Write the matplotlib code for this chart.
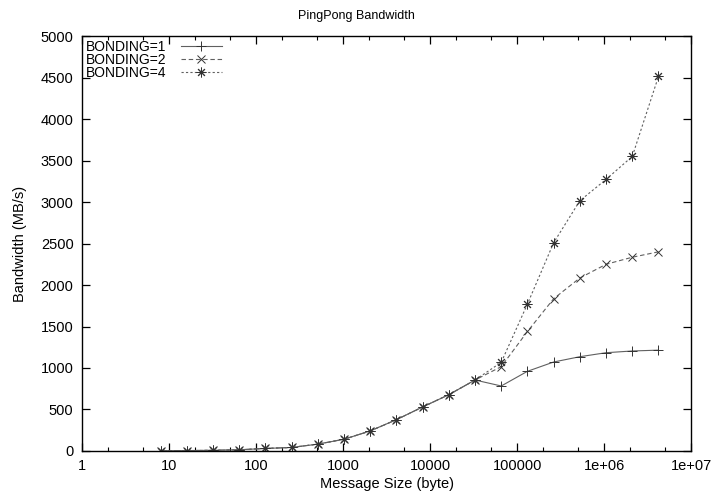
import matplotlib
matplotlib.use('Agg')
import matplotlib.pyplot as plt
from matplotlib.ticker import LogLocator, NullFormatter

plt.rcParams['font.family'] = ['Liberation Sans', 'DejaVu Sans']

# message sizes 2^3 .. 2^22 bytes
sizes = [8, 16, 32, 64, 128, 256, 512, 1024, 2048, 4096, 8192, 16384, 32768,
         65536, 131072, 262144, 524288, 1048576, 2097152, 4194304]
common = [2, 4, 8, 14, 30, 42, 82, 141, 241, 377, 530, 678, 855]
bond1 = common + [783, 960, 1072, 1136, 1184, 1205, 1215]
bond2 = common + [1016, 1440, 1835, 2085, 2250, 2335, 2400]
bond4 = common + [1068, 1771, 2510, 3016, 3273, 3550, 4515]

xticks = [1, 10, 100, 1000, 10000, 100000, 1e6, 1e7]
xticklabels = ['1', '10', '100', '1000', '10000', '100000', '1e+06', '1e+07']
yticks = list(range(0, 5001, 500))

fig = plt.figure(figsize=(7.12, 4.95), dpi=100)
ax = fig.add_axes([0.115, 0.089, 0.856, 0.838])

ax.plot(sizes, bond1, color='#606060', lw=0.8, ls='-',
        marker='+', ms=7, mec='#333333', mew=0.7, label='BONDING=1')
ax.plot(sizes, bond2, color='#606060', lw=0.8, ls=(0, (4, 2.5)),
        marker='x', ms=6, mec='#333333', mew=0.7, label='BONDING=2')
ax.plot(sizes, bond4, color='#606060', lw=0.8, ls=(0, (2, 2)),
        marker=(8, 2, 0), ms=7, mec='#333333', mew=0.7, label='BONDING=4')

ax.set_xscale('log')
ax.set_xlim(1, 1e7)
ax.set_ylim(0, 5000)
ax.set_xticks(xticks)
ax.set_xticklabels(xticklabels)
ax.xaxis.set_minor_locator(LogLocator(base=10, subs=(2, 5), numticks=20))
ax.xaxis.set_minor_formatter(NullFormatter())
ax.set_yticks(yticks)

ax.tick_params(which='both', direction='in', top=True, right=True,
               labelsize=10.5, colors='black')
ax.tick_params(which='major', length=6, width=0.9, pad=6)
ax.tick_params(which='minor', length=3, width=0.8)
for s in ax.spines.values():
    s.set_linewidth(1.0)

ax.set_xlabel('Message Size (byte)', fontsize=10.5, labelpad=3)
ax.set_ylabel('Bandwidth (MB/s)', fontsize=10.5, labelpad=10)
fig.text(0.5, 1 - 16 / 495, 'PingPong Bandwidth', fontsize=9,
         ha='center', va='center')

leg = ax.legend(loc='upper left', frameon=False, markerfirst=False,
                fontsize=10, handlelength=3.0, labelspacing=-0.1,
                borderaxespad=0.1, borderpad=0.2, handletextpad=1.0)

fig.savefig('out.png', dpi=100)
